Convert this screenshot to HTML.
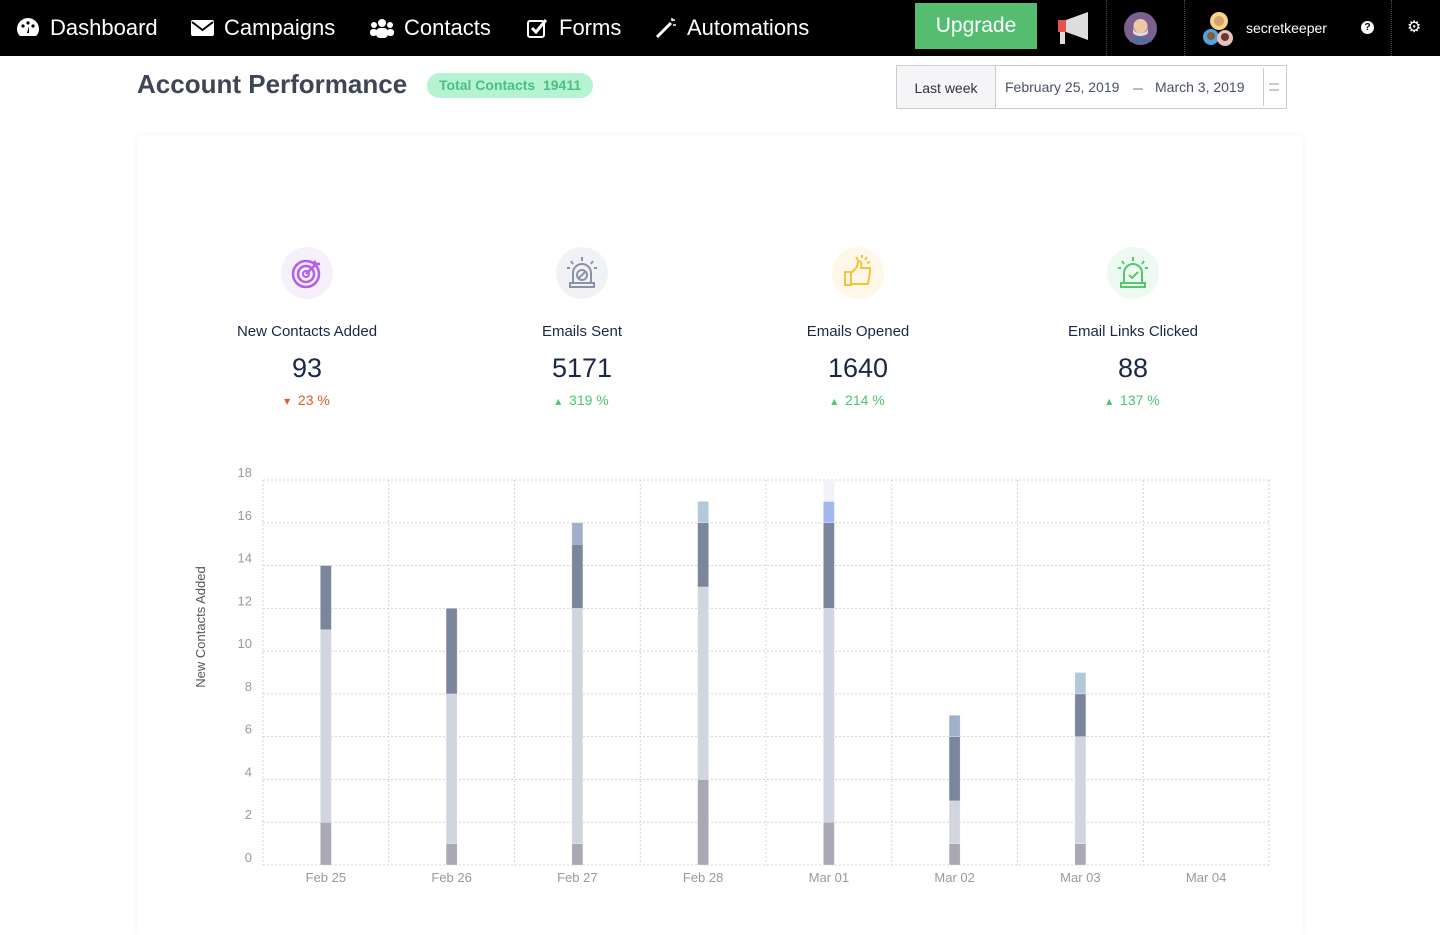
<!DOCTYPE html>
<html><head><meta charset="utf-8">
<style>
*{box-sizing:border-box;margin:0;padding:0}
body{width:1440px;height:900px;overflow:hidden;background:#fff;font-family:"Liberation Sans",sans-serif;position:relative}
.nav{position:absolute;left:0;top:0;width:1440px;height:56px;background:#000;color:#fff}
.nav .item{position:absolute;top:15px;font-size:22px;display:flex;align-items:center;gap:10px}
.sep{position:absolute;top:0;height:56px;border-left:1px dotted #444}
.upgrade{position:absolute;left:915px;top:3px;width:122px;height:46px;background:#55bd70;color:#fff;font-size:21px;text-align:center;line-height:46px}
.title{position:absolute;left:137px;top:69px;font-size:26px;font-weight:bold;color:#3d4556}
.badge{position:absolute;left:427px;top:73px;height:25px;padding:0 12px;border-radius:13px;background:#b5f3d3;color:#49c07f;font-size:14px;font-weight:bold;line-height:25px}
.range{position:absolute;left:896px;top:65px;width:391px;height:44px;border:1px solid #ccc;font-size:14px;color:#333}
.card{position:absolute;left:137px;top:135px;width:1166px;height:800px;background:#fff;box-shadow:0 0 6px rgba(0,0,0,.06);border-radius:4px}
.stat{position:absolute;width:260px;text-align:center;color:#1c2747}
.stat .ic{width:52px;height:52px;border-radius:50%;margin:0 auto}
.stat .lbl{font-size:15px;margin-top:24px}
.stat .val{font-size:27px;margin-top:13px}
.stat .chg{font-size:14px;margin-top:8px}
.stat .chg span{font-size:12px}
</style></head><body>
<div class="nav">
 <div class="item" style="left:16px"><svg width="24" height="22" viewBox="0 0 24 22"><path d="M12 1A11 11 0 0 0 1 12c0 3 1 5 3 7h16c2-2 3-4 3-7A11 11 0 0 0 12 1z" fill="#fff"/><circle cx="7" cy="9" r="1.6"/><circle cx="12" cy="6" r="1.6"/><circle cx="17" cy="9" r="1.6"/><path d="M11 16l2-7 0 7z" fill="#000"/></svg>Dashboard</div>
 <div class="item" style="left:191px"><svg width="23" height="18"><rect x="0" y="1" width="23" height="16" rx="2" fill="#fff"/><path d="M1 3l10.5 8L22 3" stroke="#000" stroke-width="2" fill="none"/></svg>Campaigns</div>
 <div class="item" style="left:370px"><svg width="24" height="20"><circle cx="12" cy="5" r="4" fill="#fff"/><circle cx="4" cy="7" r="3" fill="#fff"/><circle cx="20" cy="7" r="3" fill="#fff"/><rect x="6" y="10" width="12" height="10" rx="4" fill="#fff"/><rect x="0" y="11" width="7" height="7" rx="3" fill="#fff"/><rect x="17" y="11" width="7" height="7" rx="3" fill="#fff"/></svg>Contacts</div>
 <div class="item" style="left:527px"><svg width="22" height="20"><rect x="1" y="3" width="16" height="16" rx="2" stroke="#fff" stroke-width="2" fill="none"/><path d="M5 10l4 4 10-12" stroke="#fff" stroke-width="3" fill="none"/></svg>Forms</div>
 <div class="item" style="left:655px"><svg width="22" height="22"><path d="M2 20L16 6" stroke="#fff" stroke-width="3"/><path d="M17 1v3M20 3h-3M21 8h-3" stroke="#fff" stroke-width="1.5"/></svg>Automations</div>
 <div class="upgrade">Upgrade</div>
 <svg style="position:absolute;left:1056px;top:10px" width="36" height="36"><rect x="2" y="10" width="8" height="12" fill="#e5534b"/><path d="M10 10l22-8v28l-22-8z" fill="#ddd"/><rect x="4" y="22" width="5" height="12" fill="#ddd"/></svg>
 <div class="sep" style="left:1106px"></div>
 <svg style="position:absolute;left:1124px;top:12px" width="33" height="33"><circle cx="16.5" cy="16.5" r="16.5" fill="#7b6190"/><circle cx="16.5" cy="14" r="7" fill="#f0c8a8"/><path d="M9 15c0 8 15 8 15 0v6c-3 4-12 4-15 0z" fill="#ddd"/><path d="M5 30c4-5 19-5 23 0" fill="#3f73a0"/></svg>
 <div class="sep" style="left:1184px"></div>
 <svg style="position:absolute;left:1201px;top:11px" width="36" height="36"><circle cx="18" cy="10" r="9" fill="#f6d38a"/><circle cx="18" cy="10" r="5" fill="#d8a070"/><circle cx="10" cy="26" r="8" fill="#4aa5e0"/><circle cx="10" cy="25" r="4" fill="#8a5a3a"/><circle cx="24" cy="27" r="8" fill="#e8c0c0"/><circle cx="24" cy="26" r="4" fill="#6a3a2a"/></svg>
 <div style="position:absolute;left:1246px;top:20px;font-size:14px">secretkeeper</div>
 <div style="position:absolute;left:1361px;top:21px;width:13px;height:13px;border-radius:50%;background:#fff;color:#000;font-size:10px;font-weight:bold;text-align:center;line-height:13px">?</div>
 <div class="sep" style="left:1391px"></div>
 <div style="position:absolute;left:1407px;top:17px;font-size:16px">⚙</div>
</div>
<div class="title">Account Performance</div>
<div class="badge">Total Contacts&nbsp; 19411</div>
<div class="range">
 <div style="position:absolute;left:0;top:0;width:99px;height:42px;background:#f5f5f8;border-right:1px solid #ccc;text-align:center;line-height:44px">Last week</div>
 <div style="position:absolute;left:108px;top:13px;color:#4a5163">February 25, 2019</div>
 <div style="position:absolute;left:236px;top:22px;width:10px;height:2px;background:#bbb"></div>
 <div style="position:absolute;left:258px;top:13px;color:#4a5163">March 3, 2019</div>
 <div style="position:absolute;left:366px;top:2px;height:38px;border-left:1px solid #ccc"></div>
 <div style="position:absolute;left:372px;top:17px;width:10px;height:8px;border-top:2px solid #ccc;border-bottom:2px solid #ccc"></div>
</div>
<div class="card"></div>

<div class="stat" style="left:177px;top:247px">
 <div class="ic" style="background:#f6effc"><svg width="52" height="52"><circle cx="25" cy="27" r="13" stroke="#b35ee8" stroke-width="2.5" fill="none"/><circle cx="25" cy="27" r="8" stroke="#b35ee8" stroke-width="2.5" fill="none"/><circle cx="25" cy="27" r="3" stroke="#b35ee8" stroke-width="2" fill="none"/><path d="M25 27l10-10M33 14l2 3 4 0" stroke="#b35ee8" stroke-width="2.5" fill="none"/></svg></div>
 <div class="lbl">New Contacts Added</div><div class="val">93</div>
 <div class="chg" style="color:#e5592b"><span>▾</span>&nbsp; 23 %</div></div>
<div class="stat" style="left:452px;top:247px">
 <div class="ic" style="background:#f1f2f5"><svg width="52" height="52"><path d="M17 36V26a9 9 0 0 1 18 0v10" stroke="#8a92a8" stroke-width="2" fill="none"/><rect x="14" y="36" width="24" height="4" stroke="#8a92a8" stroke-width="2" fill="none"/><circle cx="26" cy="28" r="5" stroke="#8a92a8" stroke-width="2" fill="none"/><path d="M23 31l6-6M26 10v4M15 14l2 3M37 14l-2 3M11 21h3M41 21h-3" stroke="#8a92a8" stroke-width="2"/></svg></div>
 <div class="lbl">Emails Sent</div><div class="val">5171</div>
 <div class="chg" style="color:#4ec46e"><span>▴</span>&nbsp; 319 %</div></div>
<div class="stat" style="left:728px;top:247px">
 <div class="ic" style="background:#fff8e8"><svg width="52" height="52"><rect x="13" y="25" width="6" height="13" stroke="#f5c33b" stroke-width="2" fill="none"/><path d="M19 26l6-6 1-6c3 0 4 3 3 7h9v4l-2 12H19" stroke="#f5c33b" stroke-width="2" fill="none"/><path d="M30 8v3M35 10l-2 3M24 10l2 3M38 15l-3 1" stroke="#f5c33b" stroke-width="2"/></svg></div>
 <div class="lbl">Emails Opened</div><div class="val">1640</div>
 <div class="chg" style="color:#4ec46e"><span>▴</span>&nbsp; 214 %</div></div>
<div class="stat" style="left:1003px;top:247px">
 <div class="ic" style="background:#edfaf1"><svg width="52" height="52"><path d="M17 36V26a9 9 0 0 1 18 0v10" stroke="#56c66e" stroke-width="2" fill="none"/><rect x="14" y="36" width="24" height="4" stroke="#56c66e" stroke-width="2" fill="none"/><path d="M22 28l3 3 6-6M26 10v4M15 14l2 3M37 14l-2 3M11 21h3M41 21h-3" stroke="#56c66e" stroke-width="2" fill="none"/></svg></div>
 <div class="lbl">Email Links Clicked</div><div class="val">88</div>
 <div class="chg" style="color:#4ec46e"><span>▴</span>&nbsp; 137 %</div></div>

<svg id="chart" style="position:absolute;left:0;top:0" width="1440" height="900"></svg>
<script>
const categories=["Feb 25","Feb 26","Feb 27","Feb 28","Mar 01","Mar 02","Mar 03","Mar 04"];
const seriesA=[2,1,1,4,2,1,1,0];
const seriesB=[9,7,11,9,10,2,5,0];
const seriesC=[3,4,3,3,4,3,2,0];
const seriesD=[0,0,1,0,0,1,0,0];
const seriesE=[0,0,0,1,0,0,1,0];
const seriesF=[0,0,0,0,1,0,0,0];
const seriesG=[0,0,0,0,1,0,0,0];
const yTicks=[0,2,4,6,8,10,12,14,16,18];
const seriesList=[seriesA,seriesB,seriesC,seriesD,seriesE,seriesF,seriesG];
const colors=["#a9a8b5","#d0d5df","#7b859b","#a1afcb","#b2cad8","#a5b7ef","#f2f2f8"];
const X0=263,X1=1269,Y0=865,Y1=480,YMAX=18;
const bw=(X1-X0)/categories.length;
const y=v=>Y0-(v/YMAX)*(Y0-Y1);
const x=i=>X0+bw*(i+0.5);
const svg=document.getElementById('chart');const NS="http://www.w3.org/2000/svg";
function mk(t,a){const e=document.createElementNS(NS,t);for(const k in a)e.setAttribute(k,a[k]);svg.appendChild(e);return e;}
yTicks.forEach(t=>{const l=mk('line',{x1:X0,x2:X1,y1:y(t),y2:y(t),stroke:'#d4d4d4','stroke-dasharray':'2,2'});


const tx=mk('text',{x:252,y:y(t)-3,'text-anchor':'end','font-size':13,fill:'#999','font-family':'Liberation Sans'});tx.textContent=t;

});
for(let i=0;i<=categories.length;i++){const l=mk('line',{x1:X0+bw*i,x2:X0+bw*i,y1:Y1,y2:Y0,stroke:'#d4d4d4','stroke-dasharray':'2,2'});

}
categories.forEach((c,i)=>{const tx=mk('text',{x:x(i),y:882,'text-anchor':'middle','font-size':13,fill:'#999','font-family':'Liberation Sans'});tx.textContent=c;


let acc=0;seriesList.forEach((s,k)=>{const v=s[i];if(v>0){const r=mk('rect',{x:x(i)-5.5,width:11,y:y(acc+v),height:y(acc)-y(acc+v),fill:colors[k],stroke:'rgba(255,255,255,0.5)','stroke-width':0.5});

}acc+=v;});});
const yt=mk('text',{x:0,y:0,transform:'translate(205,627) rotate(-90)','text-anchor':'middle','font-size':13,fill:'#555','font-family':'Liberation Sans'});yt.textContent='New Contacts Added';


</script>
</body></html>
